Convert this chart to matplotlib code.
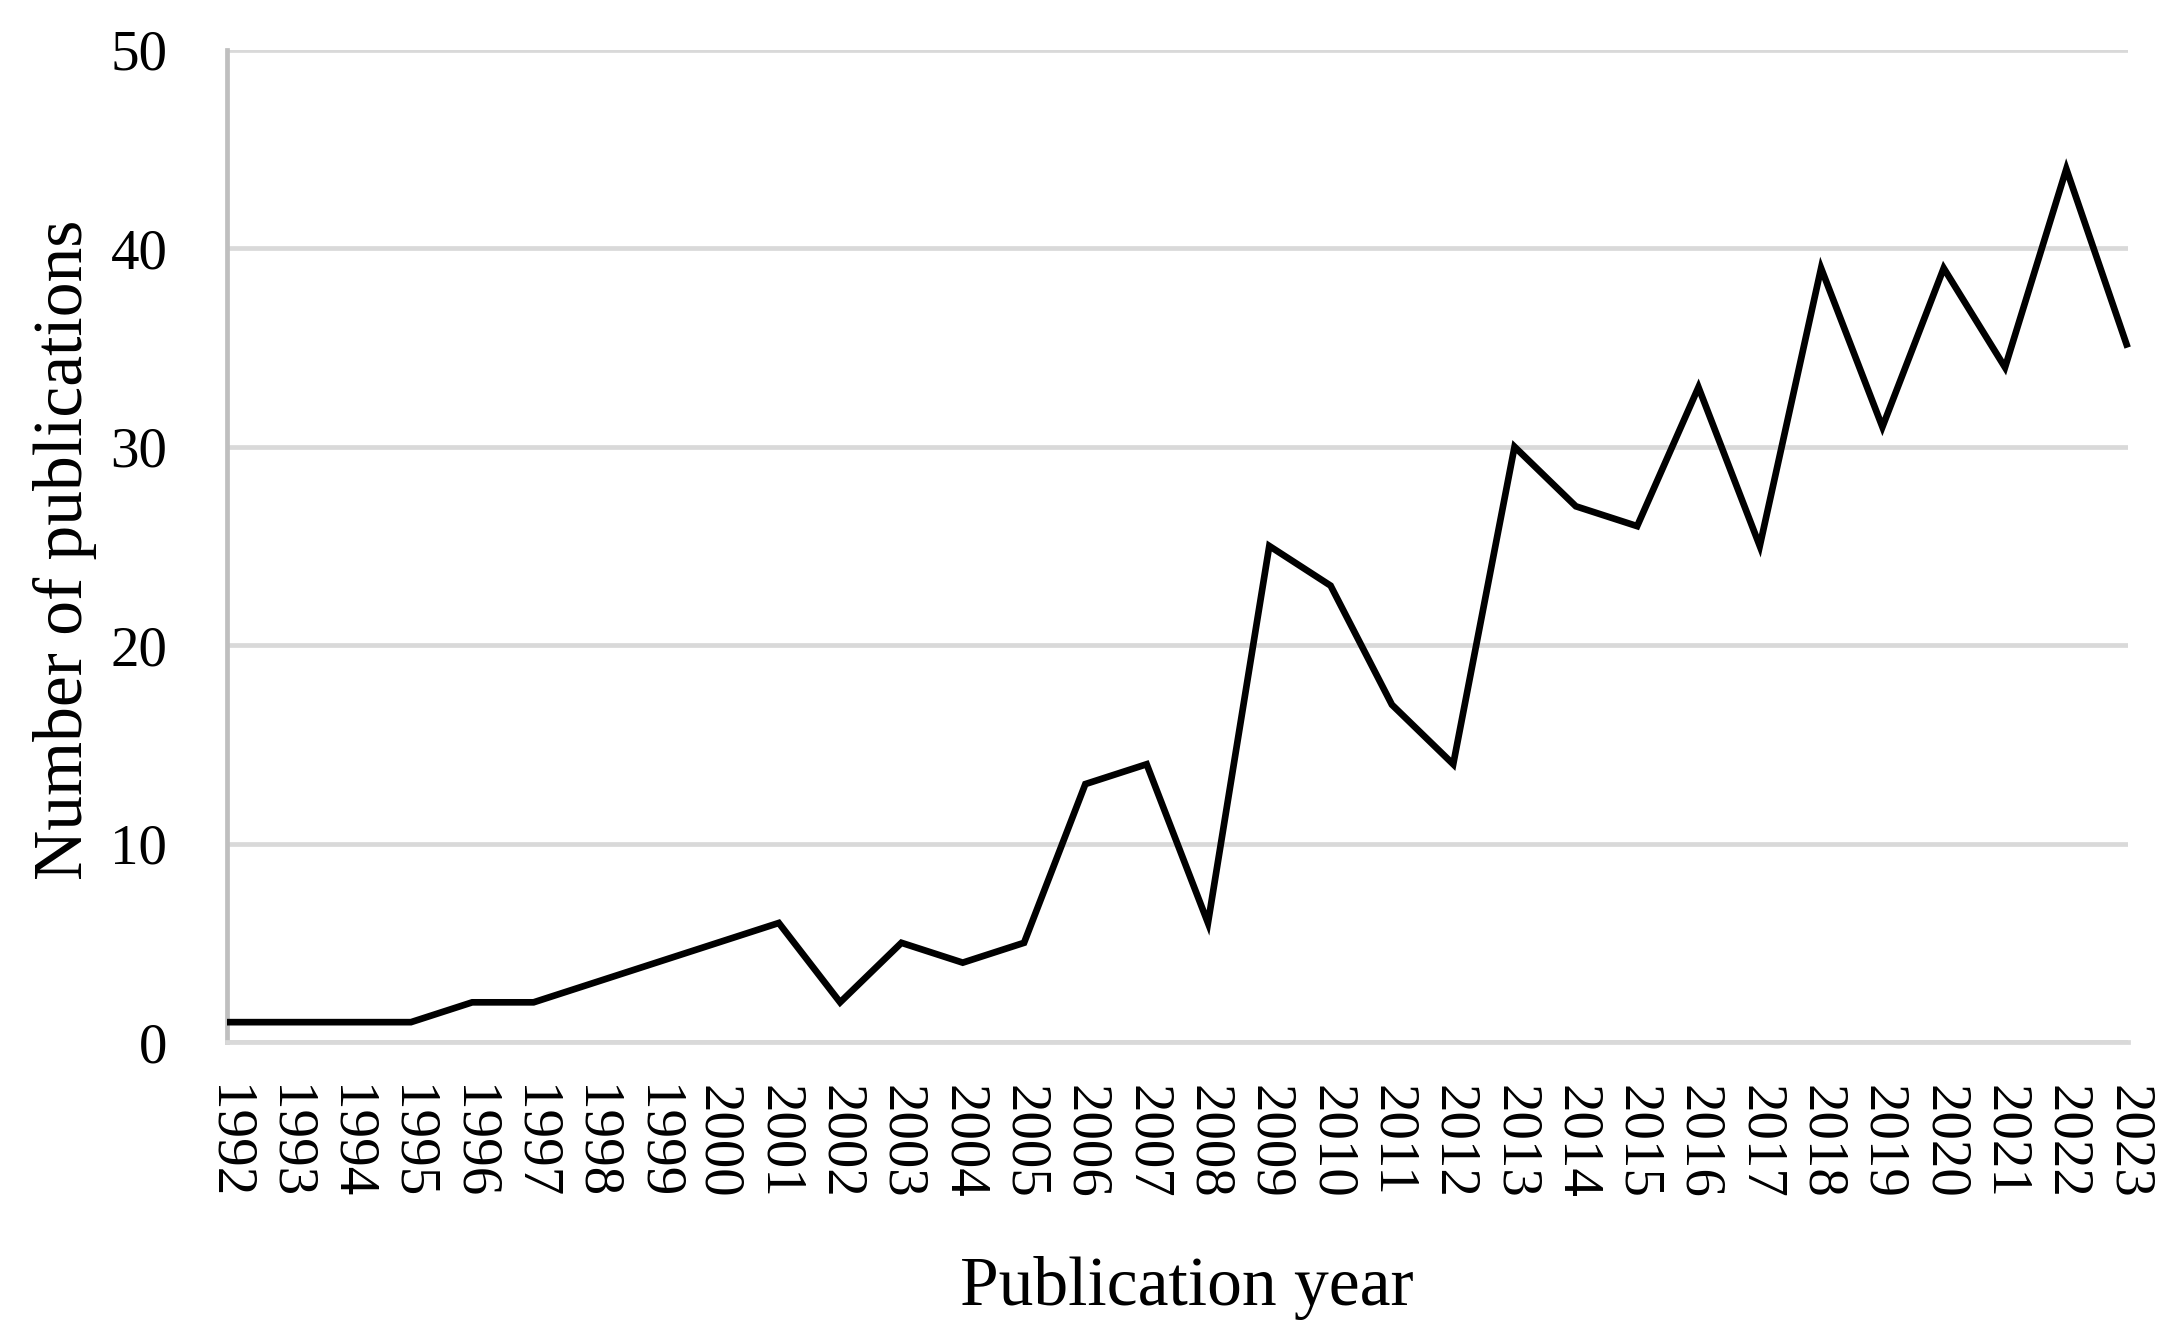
import numpy as np
import matplotlib
matplotlib.use('Agg')
from matplotlib import pyplot as plt

years = list(range(1992, 2024))
counts = [1, 1, 1, 1, 2, 2, 3, 4, 5, 6, 2, 5, 4, 5, 13, 14, 6, 25, 23, 17,
          14, 30, 27, 26, 33, 25, 39, 31, 39, 34, 44, 35]
yticks = [0, 10, 20, 30, 40, 50]

plt.rcParams['font.family'] = ['Liberation Serif', 'DejaVu Serif']

fig = plt.figure(figsize=(21.64, 13.39), dpi=100)
ax = fig.add_axes([0.1049, 0.2218, 0.8783, 0.7409])

ax.plot(years, counts, color='black', linewidth=4.8, solid_joinstyle='miter',
        solid_capstyle='butt', zorder=3, clip_on=False)

ax.set_xlim(years[0], years[-1])
ax.set_ylim(0, 50)
ax.set_yticks(yticks)
ax.set_xticks(years)
ax.set_xticklabels([str(y) for y in years], rotation=270, fontsize=41)
for t in ax.get_yticklabels():
    t.set_fontsize(41)

ax.tick_params(axis='x', length=0, pad=31)
ax.tick_params(axis='y', length=0, pad=43)

ax.grid(axis='y', color='#d9d9d9', linewidth=3.4, zorder=0)
ax.grid(axis='x', visible=False)
for s in ['top', 'right']:
    ax.spines[s].set_visible(False)
ax.spines['bottom'].set_color('#d9d9d9')
ax.spines['bottom'].set_linewidth(3.4)
ax.spines['left'].set_color('#bfbfbf')
ax.spines['left'].set_linewidth(3.4)

ax.set_ylabel('Number of publications', fontsize=50)
ax.yaxis.set_label_coords(-0.0685, 0.496)
ax.set_xlabel('Publication year', fontsize=50)
ax.xaxis.set_label_coords(0.505, -0.216)

plt.savefig('out.png', dpi=100)
